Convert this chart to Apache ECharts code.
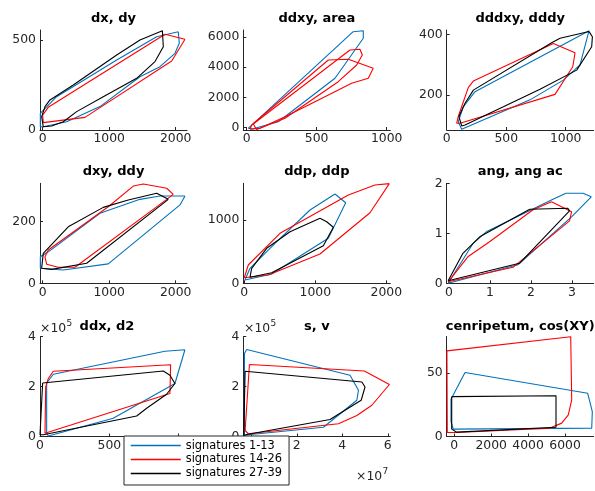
<!DOCTYPE html>
<html>
<head>
<meta charset="utf-8">
<script src="https://cdn.jsdelivr.net/npm/echarts@6/dist/echarts.min.js"></script>
<style>
html,body{margin:0;padding:0;background:#fff;}
#chart{width:595px;height:491px;}
</style>
</head>
<body>
<div id="chart"></div>
<script>
// ---------------- DATA ----------------
const titles = ['dx, dy', 'ddxy, area', 'dddxy, dddy', 'dxy, ddy', 'ddp, ddp', 'ang, ang ac', 'ddx, d2', 's, v', 'cenripetum, cos(XY)'];
const seriesNames = ['signatures 1-13', 'signatures 14-26', 'signatures 27-39'];

// axis limits and ticks (plots 7,8: y in units of 1e5; plot 8: x in units of 1e7)
const xLimits = [[-40, 2170], [-24, 1026], [0, 1235], [-40, 2170], [-14, 2056], [-0.056, 3.53], [0, 1060], [-0.35, 6.11], [-412, 7555]];
const yLimits = [[0, 555.6], [-152, 6448], [84.7, 414.2], [0, 324], [0, 1580], [0, 2], [0, 4], [0, 4], [0, 78.5]];
const xTicks = [[0, 1000, 2000], [0, 500, 1000], [0, 500, 1000], [0, 1000, 2000], [0, 1000, 2000], [0, 1, 2, 3], [0, 500, 1000], [0, 2, 4, 6], [0, 2000, 4000, 6000]];
const yTicks = [[0, 500], [0, 2000, 4000, 6000], [200, 400], [0, 200], [0, 1000], [0, 1, 2], [0, 2, 4], [0, 2, 4], [0, 50]];

// plot 1: dx, dy
const dxdy_blue = [[2039, 546], [2054, 482], [1989, 426], [1764, 352], [1463, 296], [862, 130], [361, 46], [9, 18], [-35, 18], [-35, 93], [210, 185], [1113, 389], [1714, 518]];
const dxdy_red = [[2140, 504], [1940, 383], [636, 70], [9, 41], [0, 83], [84, 126], [1839, 532]];
const dxdy_black = [[1800, 552], [1814, 463], [1689, 380], [1413, 287], [911, 185], [511, 102], [310, 46], [135, 22], [9, 18], [-15, 74], [35, 130], [110, 167], [460, 250], [1113, 417], [1463, 500]];
// plot 2: ddxy, area
const ddxy_blue = [[761, 6336], [833, 6400], [833, 5900], [631, 3260], [226, 396], [40, -80], [11, -40]];
const ddxy_red_a = [[24, -106], [36, 178], [583, 4468], [726, 4514], [904, 3920], [869, 3260], [750, 2930], [488, 1716], [274, 726], [95, -40]];
const ddxy_red_b = [[47, 244], [738, 5128], [809, 5174], [826, 4800], [786, 4138], [654, 3036], [274, 620], [71, -120]];
// plot 3: dddxy, dddy
const dddxy_blue = [[1196, 412], [1120, 299], [980, 249], [700, 184], [126, 87], [97, 112], [139, 161], [238, 211]];
const dddxy_red = [[896, 370], [1078, 339], [1059, 293], [910, 202], [112, 107], [84, 107], [97, 129], [182, 225], [224, 246]];
const dddxy_black = [[1196, 409], [1224, 392], [1218, 359], [1092, 282], [784, 219], [476, 161], [154, 101], [126, 98], [103, 129], [154, 173], [224, 216], [882, 372], [952, 387]];
// plot 4: dxy, ddy
const dxy_blue = [[2140, 283], [2065, 254], [986, 63], [310, 43], [-35, 49], [-35, 86], [85, 102], [862, 227], [1463, 272], [1764, 283]];
const dxy_red = [[1964, 288], [1865, 308], [1513, 322], [1363, 315], [986, 248], [85, 108], [35, 86], [60, 62], [235, 52], [486, 52], [1865, 272]];
const dxy_black = [[1889, 272], [1714, 292], [1287, 270], [911, 246], [385, 183], [9, 97], [-15, 49], [135, 45], [662, 65]];
// plot 5: ddp, ddp
const ddp_blue = [[1277, 1411], [1428, 1273], [1183, 711], [386, 147], [10, 52], [80, 237], [432, 632], [925, 1158]];
const ddp_red = [[2042, 1575], [1841, 1553], [1465, 1395], [503, 790], [56, 289], [0, 88], [338, 131], [1066, 463], [1770, 1115]];
const ddp_black = [[1066, 1027], [1160, 973], [1254, 885], [1113, 594], [386, 167], [80, 95], [104, 237], [315, 553], [644, 815]];
// plot 6: ang, ang ac
const ang_blue = [[2.85, 1.80], [3.27, 1.80], [3.47, 1.73], [2.99, 1.33], [1.68, 0.37], [-0.02, 0.0], [0.59, 0.80], [0.91, 1.03], [2.46, 1.65]];
const ang_red = [[2.50, 1.63], [2.99, 1.43], [2.94, 1.25], [1.56, 0.32], [-0.02, 0.03], [0.46, 0.53], [0.99, 0.83], [2.05, 1.47]];
const ang_black = [[1.97, 1.48], [2.90, 1.50], [2.94, 1.45], [1.72, 0.40], [-0.02, 0.05], [0.34, 0.60], [0.75, 0.93]];
// plot 7: ddx, d2 (d2 in 1e5)
const ddx_blue = [[1045, 3.47], [901, 3.41], [96, 2.49], [48, 2.14], [48, 0.13], [60, 0.02], [528, 0.73], [973, 2.12]];
const ddx_red = [[96, 2.61], [942, 2.87], [937, 1.72], [36, 0.13], [41, 1.98], [60, 2.32]];
const ddx_black = [[19, 2.14], [889, 2.62], [937, 2.45], [973, 2.12], [913, 1.69], [769, 1.13], [697, 0.82], [24, 0.07], [0, 0.07]];
// plot 8: s (1e7), v (1e5)
const sv_blue = [[-0.2, 3.48], [4.34, 2.45], [4.71, 1.85], [4.64, 1.45], [3.17, 0.37], [-0.13, 0.07], [-0.3, 0.04], [-0.3, 3.32]];
const sv_red = [[-0.08, 2.88], [4.97, 2.62], [6.07, 2.08], [5.30, 1.25], [4.64, 0.84], [3.83, 0.51], [-0.13, 0.11], [-0.27, 0.24]];
const sv_black = [[-0.27, 2.61], [4.86, 2.18], [5.0, 1.98], [4.83, 1.45], [3.46, 0.68], [-0.2, 0.08], [-0.33, 0.04]];
// plot 9: cenripetum, cos(XY)
const cen_blue = [[580, 50.3], [7230, 33.9], [7480, 19.5], [7447, 6.6], [-54, 5.8], [-179, 11.7], [-179, 29.2]];
const cen_red = [[-400, 67.2], [6309, 78.3], [6363, 28.7], [6179, 17], [5821, 10.5], [5187, 6.6], [130, 3.1], [-380, 3.1]];
const cen_black = [[-141, 31.3], [5512, 32], [5512, 7.3], [130, 3.4], [-141, 5.8]];

// polygons per plot: [seriesIndex, data]
const plotPolygons = [
  [[0, dxdy_blue], [1, dxdy_red], [2, dxdy_black]],
  [[0, ddxy_blue], [1, ddxy_red_a], [1, ddxy_red_b]],
  [[0, dddxy_blue], [1, dddxy_red], [2, dddxy_black]],
  [[0, dxy_blue], [1, dxy_red], [2, dxy_black]],
  [[0, ddp_blue], [1, ddp_red], [2, ddp_black]],
  [[0, ang_blue], [1, ang_red], [2, ang_black]],
  [[0, ddx_blue], [1, ddx_red], [2, ddx_black]],
  [[0, sv_blue], [1, sv_red], [2, sv_black]],
  [[0, cen_blue], [1, cen_red], [2, cen_black]]
];

// ---------------- LAYOUT / STYLE ----------------
const colors = ['#0072BD', '#FF0000', '#000000'];
const colLeft = [40, 243.3, 446.7];
const rowTop = [30, 183.3, 336.5];
const W = 147, H = 100;
const FONT = '"DejaVu Sans", sans-serif';
const AX = '#262626';

const grids = [], xAxes = [], yAxes = [], series = [], graphics = [];
for (let i = 0; i < 9; i++) {
  const r = Math.floor(i / 3), c = i % 3;
  grids.push({left: colLeft[c], top: rowTop[r], width: W, height: H, containLabel: false, outerBoundsMode: 'none'});
  const common = (ticks) => ({
    type: 'value', gridIndex: i,
    axisLine: {show: true, onZero: false, lineStyle: {color: AX, width: 1}},
    axisTick: {show: true, inside: true, length: 3, customValues: ticks, lineStyle: {color: AX}},
    axisLabel: {show: true, customValues: ticks, color: AX, fontSize: 12.4, fontFamily: FONT,
      formatter: v => String(v), showMinLabel: true, showMaxLabel: true},
    splitLine: {show: false}
  });
  const xa = common(xTicks[i]);
  xa.min = xLimits[i][0]; xa.max = xLimits[i][1]; xa.position = 'bottom';
  xa.axisLabel.margin = 3;
  xAxes.push(xa);
  const ya = common(yTicks[i]);
  ya.min = yLimits[i][0]; ya.max = yLimits[i][1]; ya.position = 'left';
  ya.axisLabel.margin = 4;
  yAxes.push(ya);
  plotPolygons[i].forEach(([si, pts]) => {
    series.push({
      type: 'line', name: seriesNames[si], xAxisIndex: i, yAxisIndex: i,
      data: pts.concat([pts[0]]),
      showSymbol: false, symbol: 'none', smooth: false, silent: true,
      lineStyle: {color: colors[si], width: 1.1}, itemStyle: {color: colors[si]},
      emphasis: {disabled: true}, animation: false
    });
  });
  // title
  const tx = (i === 6) ? 107 : colLeft[c] + W / 2;
  const ty = [18.5, 171.5, 327][r];
  graphics.push({type: 'text', x: tx, y: ty, silent: true, z: 10,
    style: {text: titles[i], font: 'bold 13px ' + FONT, fill: '#000', align: 'center', verticalAlign: 'middle', textAlign: 'center', textVerticalAlign: 'middle'}});
}

// exponent labels
function expLabel(x, y, base, exp) {
  graphics.push({type: 'text', x: x, y: y, silent: true,
    style: {text: base, font: '12.4px ' + FONT, fill: AX, align: 'left', verticalAlign: 'middle', textAlign: 'left', textVerticalAlign: 'middle'}});
  graphics.push({type: 'text', x: x + 26.5, y: y - 4.5, silent: true,
    style: {text: exp, font: '9px ' + FONT, fill: AX, align: 'left', verticalAlign: 'middle', textAlign: 'left', textVerticalAlign: 'middle'}});
}
expLabel(40, 328.5, '×10', '5');
expLabel(244, 328.5, '×10', '5');
expLabel(356, 476.5, '×10', '7');

const chart = echarts.init(document.getElementById('chart'), null, {renderer: 'canvas'});
chart.setOption({
  animation: false,
  backgroundColor: '#ffffff',
  grid: grids, xAxis: xAxes, yAxis: yAxes, series: series,
  graphic: graphics,
  legend: {
    data: seriesNames, orient: 'vertical', left: 124, top: 436,
    padding: [4, 7, 6, 6], itemWidth: 50, itemHeight: 14, itemGap: 2.7,
    backgroundColor: '#ffffff', borderColor: AX, borderWidth: 1, borderRadius: 0,
    selectedMode: false, z: 20,
    textStyle: {fontSize: 11.4, fontFamily: FONT, color: '#000'},
    itemStyle: {opacity: 0, borderWidth: 0},
    lineStyle: {width: 1.5, opacity: 1}
  }
});
</script>
</body>
</html>
